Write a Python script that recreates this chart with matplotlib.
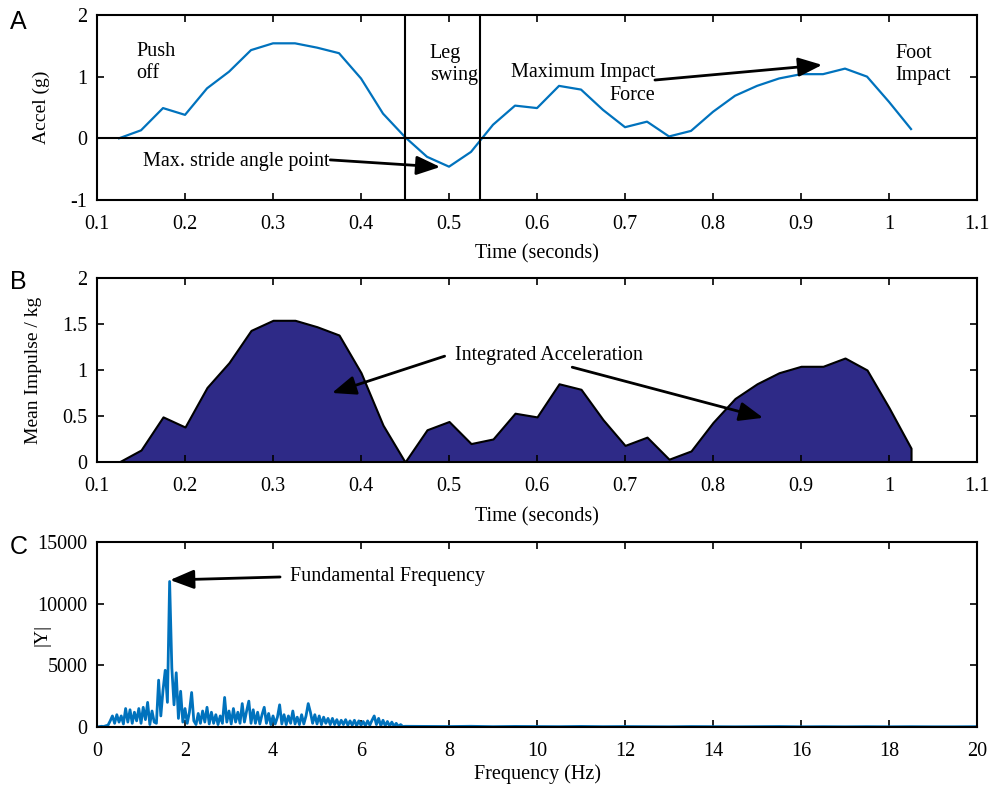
#!/bin/python
#-*- coding: utf-8 -*-

import numpy as np
from matplotlib import pyplot as plt

# stride acceleration samples (s, g)
time = [0.125, 0.15, 0.175, 0.2, 0.225, 0.25, 0.275, 0.3, 0.325, 0.35, 0.375,
        0.4, 0.425, 0.45, 0.475, 0.5, 0.525, 0.55, 0.575, 0.6, 0.625, 0.65,
        0.675, 0.7, 0.725, 0.75, 0.775, 0.8, 0.825, 0.85, 0.875, 0.9, 0.925,
        0.95, 0.975, 1.0, 1.025]
accel = [0.0, 0.13, 0.49, 0.38, 0.81, 1.08, 1.43, 1.54, 1.54, 1.47, 1.38,
         0.97, 0.40, 0.02, -0.30, -0.46, -0.22, 0.22, 0.53, 0.49, 0.85, 0.79,
         0.46, 0.18, 0.27, 0.03, 0.12, 0.43, 0.69, 0.85, 0.97, 1.04, 1.04,
         1.13, 1.0, 0.59, 0.15]

# integrated acceleration (mean impulse / kg)
impulse = [0.0, 0.13, 0.49, 0.38, 0.81, 1.08, 1.43, 1.54, 1.54, 1.47, 1.38,
           0.97, 0.40, 0.0, 0.35, 0.44, 0.20, 0.25, 0.53, 0.49, 0.85, 0.79,
           0.46, 0.18, 0.27, 0.03, 0.12, 0.43, 0.69, 0.85, 0.97, 1.04, 1.04,
           1.13, 1.0, 0.59, 0.15]

swing_start = 0.45
swing_end = 0.535

# spectrum |Y|, 0 - 7 Hz every 0.05 Hz, then sparse tail to 20 Hz
spec_lo = [0, 30, 60, 40, 100, 150, 500, 900, 300, 1000,
           400, 900, 250, 1500, 400, 1400, 300, 1200, 500, 1500,
           300, 1600, 600, 2000, 200, 1300, 400, 300, 3800, 900,
           3000, 4600, 2000, 11800, 4800, 1800, 4400, 700, 2900, 400,
           1500, 300, 1200, 2800, 500, 200, 1100, 300, 1300, 400,
           1600, 250, 1200, 300, 1000, 200, 900, 300, 2400, 400,
           1300, 250, 1500, 400, 1200, 300, 1900, 400, 1300, 2100,
           300, 1400, 300, 1200, 250, 1000, 1600, 300, 1100, 200,
           900, 250, 800, 1800, 250, 1000, 200, 900, 300, 1300,
           250, 800, 200, 1000, 250, 900, 1900, 1200, 300, 1000,
           250, 900, 200, 800, 300, 700, 200, 700, 200, 600,
           150, 550, 200, 600, 150, 500, 150, 550, 100, 500,
           150, 450, 100, 500, 150, 550, 900, 200, 700, 100,
           550, 100, 450, 80, 400, 60, 300, 50, 200, 40,
           60]
spec_hi = [50, 40, 60, 30, 50, 40, 30, 50, 30, 40, 30, 20, 40,
           30, 20, 30, 40, 20, 30, 20, 30, 20, 30, 20, 20, 30]

freq = np.concatenate([np.linspace(0, 7.0, len(spec_lo)),
                       np.linspace(7.5, 20, len(spec_hi))])
spec = np.array(spec_lo + spec_hi)

time_ticks = [0.1, 0.2, 0.3, 0.4, 0.5, 0.6, 0.7, 0.8, 0.9, 1.0, 1.1]
time_labels = ['0.1', '0.2', '0.3', '0.4', '0.5', '0.6', '0.7', '0.8', '0.9', '1', '1.1']

plt.rcParams['font.family'] = 'serif'
plt.rcParams['font.serif'] = ['Liberation Serif', 'DejaVu Serif']
plt.rcParams['font.size'] = 14.5
plt.rcParams['axes.labelsize'] = 14.5
plt.rcParams['axes.unicode_minus'] = False
plt.rcParams['xtick.direction'] = 'in'
plt.rcParams['ytick.direction'] = 'in'
plt.rcParams['xtick.top'] = True
plt.rcParams['ytick.right'] = True
plt.rcParams['xtick.major.size'] = 5
plt.rcParams['ytick.major.size'] = 5
plt.rcParams['xtick.major.width'] = 1.2
plt.rcParams['ytick.major.width'] = 1.2
plt.rcParams['xtick.major.pad'] = 11
plt.rcParams['ytick.major.pad'] = 7
plt.rcParams['axes.linewidth'] = 1.5

blue = '#0072BD'
arrow = dict(arrowstyle='-|>,head_length=1.0,head_width=0.4', lw=2,
             color='k', shrinkA=0, shrinkB=0)

fig = plt.figure(figsize=(9.89, 7.87), dpi=100)
ax0 = fig.add_axes([0.0981, 0.7459, 0.8898, 0.2351])
ax1 = fig.add_axes([0.0981, 0.4130, 0.8898, 0.2338])
ax2 = fig.add_axes([0.0981, 0.0762, 0.8898, 0.2351])

# A
ax0.plot(time, accel, color=blue, lw=1.6)
ax0.axhline(0, color='k', lw=1.5)
ax0.axvline(swing_start, color='k', lw=1.5)
ax0.axvline(swing_end, color='k', lw=1.5)
ax0.set_xlim(0.1, 1.1)
ax0.set_ylim(-1, 2)
ax0.set_xticks(time_ticks)
ax0.set_xticklabels(time_labels)
ax0.set_yticks([-1, 0, 1, 2])
ax0.set_xlabel('Time (seconds)', labelpad=7)
ax0.set_ylabel('Accel (g)', fontsize=14)
ax0.yaxis.set_label_coords(-0.053, 0.5)
ax0.text(0.145, 1.23, 'Push\noff', ha='left', va='center', linespacing=1.22)
ax0.text(0.478, 1.2, 'Leg\nswing', ha='left', va='center', linespacing=1.22)
ax0.text(1.007, 1.2, 'Foot\nImpact', ha='left', va='center', linespacing=1.22)
ax0.annotate('', xy=(0.924, 1.19), xytext=(0.734, 0.945), arrowprops=arrow)
ax0.text(0.734, 0.88, 'Maximum Impact\nForce', ha='right', va='center',
         multialignment='right', linespacing=1.22)
ax0.annotate('', xy=(0.49, -0.465), xytext=(0.365, -0.35), arrowprops=arrow)
ax0.text(0.152, -0.37, 'Max. stride angle point', ha='left', va='center')

# B
ax1.fill_between(time, impulse, 0, facecolor='#2E2A87', edgecolor='k', lw=1.5)
ax1.set_xlim(0.1, 1.1)
ax1.set_ylim(0, 2)
ax1.set_xticks(time_ticks)
ax1.set_xticklabels(time_labels)
ax1.set_yticks([0, 0.5, 1, 1.5, 2])
ax1.set_yticklabels(['0', '0.5', '1', '1.5', '2'])
ax1.set_xlabel('Time (seconds)', labelpad=8)
ax1.set_ylabel('Mean Impulse / kg', fontsize=14)
ax1.yaxis.set_label_coords(-0.063, 0.5)
ax1.text(0.507, 1.16, 'Integrated Acceleration', ha='left', va='center')
ax1.annotate('', xy=(0.367, 0.75), xytext=(0.495, 1.15), arrowprops=arrow)
ax1.annotate('', xy=(0.857, 0.48), xytext=(0.64, 1.03), arrowprops=arrow)

# C
ax2.plot(freq, spec, color=blue, lw=2.0)
ax2.set_xlim(0, 20)
ax2.set_ylim(0, 15000)
ax2.set_xticks(np.arange(0, 21, 2))
ax2.set_yticks([0, 5000, 10000, 15000])
ax2.set_xlabel('Frequency (Hz)', labelpad=2)
ax2.set_ylabel('|Y|', fontsize=14)
ax2.yaxis.set_label_coords(-0.053, 0.5)
ax2.text(4.39, 12165, 'Fundamental Frequency', ha='left', va='center')
ax2.annotate('', xy=(1.66, 11920), xytext=(4.16, 12165), arrowprops=arrow)

for lab, y in [('A', 0.972), ('B', 0.642), ('C', 0.305)]:
    fig.text(0.01, y, lab, fontsize=18, family='Liberation Sans', va='center')

plt.savefig('out.png', dpi=100, facecolor='w')
